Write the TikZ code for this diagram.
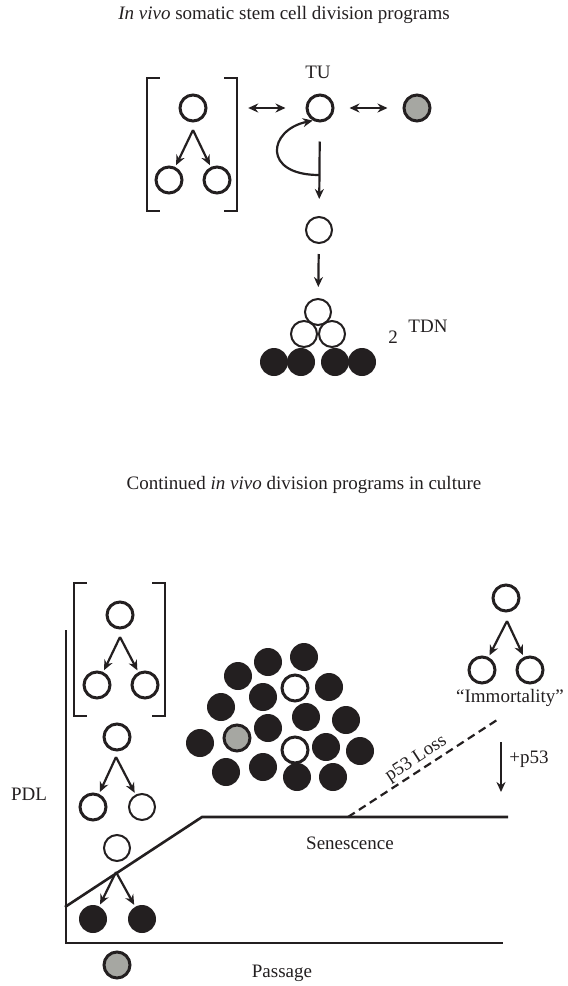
\documentclass[tikz,border=0pt]{standalone}
\usepackage{fontspec}
\setmainfont{Liberation Serif}
\usetikzlibrary{arrows.meta}
\definecolor{cellgray}{RGB}{166,167,162}
\definecolor{ink}{RGB}{35,31,32}
\begin{document}
\begin{tikzpicture}[x=1pt,y=-1pt,
  every node/.style={font=\fontsize{19}{22}\selectfont, text=ink},
  thk/.style={circle,draw=ink,line width=3pt,minimum size=26pt,inner sep=0pt},
  thn/.style={circle,draw=ink,line width=2pt,minimum size=26pt,inner sep=0pt},
  blk/.style={circle,fill=ink,minimum size=28pt,inner sep=0pt},
  gry/.style={thk,fill=cellgray},
  arr/.style={draw=ink,line width=2.2pt,-{Stealth[length=10pt,width=9pt]}},
  darr/.style={draw=ink,line width=2.2pt,{Stealth[length=10pt,width=9pt]}-{Stealth[length=10pt,width=9pt]}},
  brk/.style={draw=ink,line width=2.2pt},
  ln/.style={draw=ink,line width=2.6pt}]
\useasboundingbox (0,0) rectangle (568,986);

% ---------- top panel ----------
\node (title1) at (284,15) {\textit{In vivo} somatic stem cell division programs};
\node (tulab) at (318,72) {TU};

\node[minimum width=90pt,minimum height=133pt,inner sep=0pt] (bk1) at (192,144.5) {};
\draw[brk] ([xshift=13pt]bk1.north west) -- (bk1.north west) -- (bk1.south west) -- ([xshift=13pt]bk1.south west);
\draw[brk] ([xshift=-13pt]bk1.north east) -- (bk1.north east) -- (bk1.south east) -- ([xshift=-13pt]bk1.south east);

\node[thk] (p1) at (193,108) {};
\node[thk] (p1l) at (169,180) {};
\node[thk] (p1r) at (217,180) {};
\coordinate (a1) at (193,130);
\draw[arr,shorten >=2pt] (a1) -- (p1l);
\draw[arr,shorten >=2pt] (a1) -- (p1r);

\node[thk] (tu) at (320,108) {};
\node[gry] (g1) at (417,108) {};
\draw[darr,shorten <=11pt,shorten >=20pt] (bk1.east |- tu) -- (tu);
\draw[darr,shorten <=15pt,shorten >=15pt] (tu) -- (g1);

\node[thn] (c2) at (319,230) {};
\draw[arr,shorten <=19pt,shorten >=17pt] (tu) -- (c2);
\coordinate (kink) at (319,175);
\draw[arr] (kink) .. controls (262,175) and (268,130) .. (tu.-120);

\node[thn] (t1) at (318,312) {};
\node[thn] (t2) at (304,334) {};
\node[thn] (t3) at (332,334) {};
\draw[arr,shorten <=10pt,shorten >=11pt] (c2) -- (t1);
\node[blk] (b1) at (274,362) {};
\node[blk] (b2) at (301,362) {};
\node[blk] (b3) at (335,362) {};
\node[blk] (b4) at (362,362) {};
\node (two) at (393,337) {2};
\node (tdn) at (428,326) {TDN};

% ---------- bottom panel ----------
\node (title2) at (304,485) {Continued \textit{in vivo} division programs in culture};

\node[minimum width=91pt,minimum height=133pt,inner sep=0pt] (bk2) at (119.5,649.5) {};
\draw[brk] ([xshift=13pt]bk2.north west) -- (bk2.north west) -- (bk2.south west) -- ([xshift=13pt]bk2.south west);
\draw[brk] ([xshift=-13pt]bk2.north east) -- (bk2.north east) -- (bk2.south east) -- ([xshift=-13pt]bk2.south east);

\node[thk] (q1) at (120,615) {};
\node[thk] (q1l) at (97,685) {};
\node[thk] (q1r) at (145,685) {};
\coordinate (a2) at (120,637);
\draw[arr,shorten >=2pt] (a2) -- (q1l);
\draw[arr,shorten >=2pt] (a2) -- (q1r);

\node[thk] (q2) at (117,737) {};
\node[thk] (q2l) at (93,807) {};
\node[thn] (q2r) at (142,807) {};
\coordinate (a3) at (116,757);
\draw[arr,shorten >=2pt] (a3) -- (q2l);
\draw[arr,shorten >=2pt] (a3) -- (q2r);

\node[thn] (q3) at (117,848) {};
\node[blk] (q3l) at (93,919) {};
\node[blk] (q3r) at (142,919) {};
\coordinate (a4) at (116,872);
\draw[arr,shorten >=2pt] (a4) -- (q3l);
\draw[arr,shorten >=2pt] (a4) -- (q3r);

\node[gry] (q4) at (117,965) {};

% axes
\coordinate (ytop) at (66,630);
\coordinate (orig) at (66,943);
\coordinate (xend) at (503,943);
\draw[ln] (ytop) -- (orig) -- (xend);
\node (pdl) at (29,794) {PDL};
\node (passage) at (282,973) {Passage};

% senescence curve
\coordinate (s0) at (65,907);
\coordinate (s1) at (202,817);
\coordinate (s2) at (508,817);
\coordinate (sd) at (348,817);
\coordinate (se) at (497,720);
\draw[ln] (s0) -- (s1) -- (s2);
\node (sen) at (350,843) {Senescence};
\draw[draw=ink,line width=2.2pt,dash pattern=on 8pt off 5pt] (sd) -- node[sloped,above,pos=0.5,inner sep=2pt] {p53 Loss} (se);

% immortality
\node[thk] (m1) at (506,598) {};
\node[thk] (m1l) at (482,670) {};
\node[thk] (m1r) at (530,670) {};
\coordinate (a5) at (507,621);
\draw[arr,shorten >=2pt] (a5) -- (m1l);
\draw[arr,shorten >=2pt] (a5) -- (m1r);
\node (imm) at (510,698) {``Immortality''};
\coordinate (pa) at (501,742);
\coordinate (pb) at (501,792);
\draw[arr] (pa) -- (pb);
\node (p53) at (529,759) {+p53};

% cluster
\foreach \n/\x/\y in {k1/268/662,k2/304/657,k3/238/676,k4/263/697,k6/329/687,k7/221/707,k8/306/717,k9/346/720,k10/200/743,k12/268/728,k14/326/747,k15/360/751,k16/226/772,k17/263/767,k18/297/777,k19/333/777}
  \node[blk] (\n) at (\x,\y) {};
\node[thk] (k5) at (295,688) {};
\node[thk] (k13) at (295,750) {};
\node[gry] (k11) at (237,738) {};
\end{tikzpicture}
\end{document}
